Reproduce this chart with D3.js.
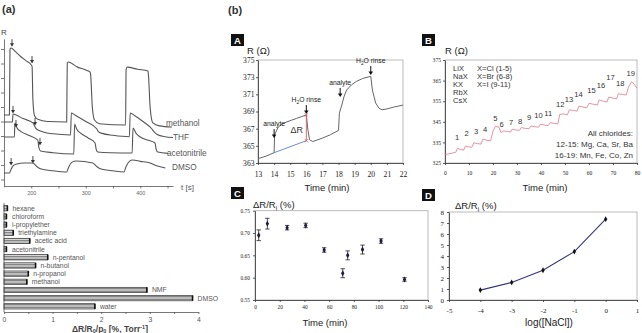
<!DOCTYPE html>
<html>
<head>
<meta charset="utf-8">
<script src="https://cdn.jsdelivr.net/npm/d3@7"></script>
<style>
body { margin: 0; background: #fff; }
svg { display: block; font-family: "Liberation Sans", Arial, sans-serif; }
</style>
</head>
<body>
<svg id="fig" width="642" height="333"></svg>
<script>
// ---------- data ----------
// (a) top: response traces, [t (s), R (arb. units)]
const methanol = [[150,5.45],[160,5.45],[161,10.0],[163,10.07],[170,9.85],[180,9.5],[190,9.2],[200,8.9],[201.5,8.8],[203,6.5],[206,5.4],[212,5.15],[230,5.0],[265,4.97],[266,9.0],[268,9.1],[285,8.75],[300,8.55],[308,8.4],[309,8.2],[312,6.0],[316,5.1],[325,4.85],[373,4.76],[374,8.6],[376,8.75],[395,8.6],[414,8.48],[415,8.2],[418,6.0],[423,4.9],[435,4.7],[458,4.62]];
const thf = [[150,4.97],[165.5,4.97],[166.5,5.52],[172,5.45],[185,5.2],[203,4.9],[206,4.7],[209,4.5],[222,4.28],[240,4.15],[272,4.07],[273.5,5.59],[280,5.45],[300,5.0],[320,4.5],[323,4.3],[330,4.18],[350,4.05],[380,3.95],[381.5,5.59],[390,5.4],[405,5.0],[421,4.5],[425,4.3],[431,4.1],[445,3.95],[460,3.9]];
const acetonitrile = [[150,3.93],[169,3.93],[170,4.9],[174,4.55],[180,4.34],[195,4.05],[212,3.72],[214,3.2],[217,2.97],[240,2.85],[278,2.76],[279.5,4.83],[283,4.5],[290,4.21],[305,3.85],[317,3.52],[319,3.1],[322,2.9],[345,2.85],[385,2.83],[386.7,4.55],[392,4.2],[400,3.93],[415,3.7],[427,3.52],[429,3.1],[432,2.9],[451,2.8]];
const dmso = [[150,1.45],[160,1.45],[163,1.7],[167,1.95],[172,2.05],[188,2.14],[203,2.14],[210,1.9],[218,1.72],[240,1.6],[265,1.52],[268,1.8],[275,2.2],[282,2.28],[313,2.14],[320,1.9],[328,1.72],[350,1.6],[370,1.52],[374,1.9],[380,2.25],[386,2.34],[400,2.25],[418,2.14],[430,1.95],[446,1.79]];
const traceNames = ["methanol", "THF", "acetonitrile", "DMSO"];
const arrowT = [164.7, 201.4, 166.5, 207, 172, 216, 163, 203];
const arrowR = [10.4, 9.24, 5.8, 4.97, 4.83, 3.59, 2.2, 2.34];
const timeTicks = [200, 250, 300, 350, 400, 450];

// (a) bottom: sensitivity per solvent
const solvents = ["hexane","chloroform","i-propylether","triethylamine","acetic acid","acetonitrile","n-pentanol","n-butanol","n-propanol","methanol","NMF","DMSO","water"];
const sensitivity = [0.07, 0.05, 0.05, 0.19, 0.53, 0.05, 0.9, 0.65, 0.5, 0.47, 2.94, 3.88, 1.87];

// (b) A: single resistance trace, [time (min), R (ohm)]
const traceA = [[13,363.5],[13.5,363.8],[14,364.2],[14.03,366.3],[14.26,367.2],[14.5,367.55],[14.8,367.8],[15.1,368.0],[15.4,368.2],[15.7,368.4],[16,368.6],[16.1,366.8],[16.2,365.7],[16.4,365.5],[17,365.9],[17.5,366.3],[18,366.8],[18.05,368.8],[18.2,369.75],[18.35,370.8],[18.5,371.5],[18.8,372.1],[19.1,372.5],[19.5,372.85],[20,373.1],[20.1,371.5],[20.3,370.0],[20.5,369.4],[20.7,369.2],[21,369.3],[21.4,369.5],[22,369.75]];
const baselineA = [[14,364.2],[16,365.6]];
const deltaA = [[16,365.6],[16,368.6]];
const annoText = ["analyte", "H2O rinse", "analyte", "H2O rinse"];
const annoT = [14.0, 16.0, 18.1, 20.0];
const annoR = [365.9, 368.7, 370.7, 373.25];

// (b) B: salt series trace, [time (min), R (ohm)]
const traceB = [[0,329],[3,329.8],[4.5,330.2],[5.2,332.2],[6.5,331.5],[7.8,331.3],[8.5,333.2],[10,332.8],[11.2,332.6],[12,334.8],[13.5,334.4],[15,334.2],[15.8,336.6],[17.5,336.0],[19,335.8],[20,340.5],[21,342.8],[22.5,342.4],[23.3,339.8],[24.5,340.6],[26,340.3],[27.3,340.0],[28,341.4],[29.5,341.0],[31,340.8],[31.8,342.2],[33.5,341.8],[35,341.6],[35.8,343.0],[37.5,342.6],[39,342.4],[39.8,343.8],[41.5,343.4],[43,343.2],[43.8,344.6],[45.5,344.2],[47,344.0],[47.8,348.6],[49.5,348.8],[51,348.4],[51.8,350.8],[53.5,350.5],[55,350.2],[55.8,352.6],[57.5,352.2],[59,351.8],[60,354.0],[61.5,353.6],[63.5,353.2],[64.2,355.6],[66,355.0],[67.5,354.6],[68.2,357.0],[70,356.5],[71.5,356.2],[72.2,358.6],[74,358.3],[75.5,358.0],[76.5,362],[77.8,364.5],[79,363],[80,361.3]];
const stepLabels = ["1","2","3","4","5","6","7","8","9","10","11","12","13","14","15","16","17","18","19"];
const stepT = [5, 9, 13, 16.7, 21, 23.6, 27.5, 31.25, 35, 39, 43, 48, 51.7, 55.6, 61, 65, 69, 73, 77.4];
const stepR = [337.6, 339.6, 340.5, 341.3, 346.7, 343.9, 344.7, 345.5, 347.2, 348.3, 349.4, 353.6, 356.1, 358.4, 360.5, 362.9, 366.6, 364, 368.9];
const saltNames = ["LiX", "NaX", "KX", "RbX", "CsX"];
const halides = ["X=Cl (1-5)", "X=Br (6-8)", "X=I (9-11)"];
const chlorideNotes = ["All chlorides:", "12-15: Mg, Ca, Sr, Ba", "16-19: Mn, Fe, Co, Zn"];

// (b) C: response over time with error bars
const timeC = [3, 10, 26, 41, 56, 71, 75, 87, 102, 121];
const respC = [0.695, 0.721, 0.712, 0.717, 0.662, 0.610, 0.650, 0.663, 0.682, 0.596];
const errC = [0.012, 0.012, 0.005, 0.005, 0.005, 0.01, 0.01, 0.01, 0.005, 0.004];

// (b) D: response vs concentration
const logNaCl = [-4, -3, -2, -1, 0];
const respD = [0.9, 1.6, 2.7, 4.4, 7.35];

// ---------- drawing ----------
const svg = d3.select("#fig");
const serif = '"Liberation Serif", "Times New Roman", serif';

function styleAxis(g, size, fam, col) {
  g.selectAll("path, line").attr("stroke", col || "#333").attr("stroke-width", 0.8);
  g.selectAll("text").attr("font-size", size).attr("font-family", fam).attr("fill", "#222");
}

// ---- (a) top ----
svg.append("text").attr("x", 2).attr("y", 13).attr("font-size", 11).attr("font-weight", "bold").attr("fill", "#333").text("(a)");
svg.append("text").attr("x", 1).attr("y", 35).attr("font-size", 8).attr("fill", "#444").text("R");

let xA = d3.scaleLinear().domain([150, 460]).range([4, 173]);
let yA = d3.scaleLinear().domain([0.5, 10.7]).range([186.75, 38.85]);

let axA = svg.append("g").attr("transform", "translate(0,186)")
  .call(d3.axisBottom(xA).tickValues(timeTicks).tickFormat(d => d % 100 === 0 ? d : "").tickSize(2.5).tickSizeOuter(0).tickPadding(3));
styleAxis(axA, 5.5, "Liberation Sans", "#555");
axA.selectAll("text").attr("fill", "#666");
let ayA = svg.append("g").attr("transform", "translate(4,0)")
  .call(d3.axisLeft(yA).tickValues(d3.range(1, 11)).tickFormat("").tickSize(3).tickSizeOuter(0));
styleAxis(ayA, 5, "Liberation Sans", "#555");
svg.append("text").attr("x", 181).attr("y", 190).attr("font-size", 8).attr("fill", "#555").text("t [s]");

let lineA = d3.line().x(d => xA(d[0])).y(d => yA(d[1])).curve(d3.curveMonotoneX);
let tracesA = [methanol, thf, acetonitrile, dmso];
tracesA.forEach(tr => {
  svg.append("path").attr("d", lineA(tr)).attr("fill", "none").attr("stroke", "#555").attr("stroke-width", 1.1);
});
let labelPos = [[166, 126], [173, 140], [167, 156], [172, 170]];
traceNames.forEach((n, i) => {
  svg.append("text").attr("x", labelPos[i][0]).attr("y", labelPos[i][1]).attr("font-size", 8.2).attr("fill", "#555").text(n);
});
// small injection arrows
arrowT.forEach((t, i) => {
  let x = xA(t), y = yA(arrowR[i]);
  svg.append("line").attr("x1", x).attr("x2", x).attr("y1", y - 4).attr("y2", y + 1).attr("stroke", "#333").attr("stroke-width", 0.9);
  svg.append("path").attr("d", `M${x - 2},${y} L${x + 2},${y} L${x},${y + 3.5} Z`).attr("fill", "#333");
});

// ---- (a) bottom bars ----
let xBar = d3.scaleLinear().domain([0, 4]).range([4, 198.4]);
let yBar = d3.scaleBand().domain(solvents).range([204.2, 310.4]).paddingInner(0.35).paddingOuter(0.175);

let defs = svg.append("defs");
let pat = defs.append("pattern").attr("id", "hatch").attr("patternUnits", "userSpaceOnUse").attr("width", 4).attr("height", 1.6);
pat.append("rect").attr("width", 4).attr("height", 1.6).attr("fill", "#e4e4e4");
pat.append("rect").attr("width", 4).attr("height", 0.7).attr("fill", "#6a6a6a");

svg.append("g").selectAll("rect").data(solvents).join("rect")
  .attr("x", xBar(0)).attr("y", d => yBar(d))
  .attr("width", (d, i) => xBar(sensitivity[i]) - xBar(0))
  .attr("height", yBar.bandwidth())
  .attr("fill", "url(#hatch)").attr("stroke", "#333").attr("stroke-width", 0.7);
svg.append("g").selectAll("line").data(solvents).join("line")
  .attr("x1", (d, i) => xBar(sensitivity[i])).attr("x2", (d, i) => xBar(sensitivity[i]))
  .attr("y1", d => yBar(d)).attr("y2", d => yBar(d) + yBar.bandwidth())
  .attr("stroke", "#111").attr("stroke-width", 1.6);
svg.append("g").selectAll("text").data(solvents).join("text")
  .attr("x", (d, i) => Math.max(xBar(sensitivity[i]) + 5, 12))
  .attr("y", d => yBar(d) + yBar.bandwidth() / 2 + 2.5)
  .attr("font-size", 6.8).attr("fill", "#555").text(d => d);

let axBar = svg.append("g").attr("transform", "translate(0,312)")
  .call(d3.axisBottom(xBar).tickValues(d3.range(0, 4.01, 0.5)).tickFormat(d => Number.isInteger(d) ? d : "").tickSize(2).tickSizeOuter(0).tickPadding(3));
styleAxis(axBar, 6.8, "Liberation Sans", "#555");
axBar.selectAll("text").attr("fill", "#555");
svg.append("line").attr("x1", 4).attr("x2", 4).attr("y1", 203).attr("y2", 312).attr("stroke", "#555").attr("stroke-width", 0.8);
let tBar = svg.append("text").attr("x", 110).attr("y", 331.5).attr("text-anchor", "middle").attr("font-size", 8.5).attr("font-weight", "bold").attr("fill", "#444");
tBar.append("tspan").text("ΔR/R");
tBar.append("tspan").attr("font-size", 5.5).attr("dy", 1.5).text("0");
tBar.append("tspan").attr("dy", -1.5).text("/p");
tBar.append("tspan").attr("font-size", 5.5).attr("dy", 1.5).text("0");
tBar.append("tspan").attr("dy", -1.5).text(" [%, Torr");
tBar.append("tspan").attr("font-size", 5.5).attr("dy", -3).text("-1");
tBar.append("tspan").attr("dy", 3).text("]");

// ---- (b) ----
svg.append("text").attr("x", 228).attr("y", 14).attr("font-size", 11).attr("font-weight", "bold").attr("fill", "#333").text("(b)");

function panelBox(x, y, letter) {
  svg.append("rect").attr("x", x).attr("y", y).attr("width", 13).attr("height", 12).attr("fill", "#111");
  svg.append("text").attr("x", x + 6.5).attr("y", y + 9.5).attr("text-anchor", "middle").attr("font-size", 9.5).attr("font-weight", "bold").attr("fill", "#fff").text(letter);
}
function frame(x0, x1, y0, y1) {
  svg.append("rect").attr("x", x0).attr("y", y0).attr("width", x1 - x0).attr("height", y1 - y0).attr("fill", "none").attr("stroke", "#aaa").attr("stroke-width", 0.8);
}
function yTitle(x, y, main, sub, rest) {
  let t = svg.append("text").attr("x", x).attr("y", y).attr("font-size", 9.5).attr("fill", "#222");
  t.append("tspan").text(main);
  if (sub) t.append("tspan").attr("font-size", 6.5).attr("dy", 2.5).text(sub);
  if (rest) t.append("tspan").attr("dy", sub ? -2.5 : 0).text(rest);
}

// panel A
panelBox(231, 34, "A");
yTitle(247, 54, "R (Ω)");
let xPA = d3.scaleLinear().domain([13, 22]).range([258, 403]);
let yPA = d3.scaleLinear().domain([363, 375]).range([163, 60]);
frame(258, 403, 60, 163);
let gA1 = svg.append("g").attr("transform", "translate(258,0)").call(d3.axisLeft(yPA).tickValues(d3.range(363, 376, 2)).tickSize(2).tickSizeOuter(0).tickPadding(1.5));
styleAxis(gA1, 7.6, serif);
let gA2 = svg.append("g").attr("transform", "translate(0,163)").call(d3.axisBottom(xPA).ticks(9).tickSize(2).tickSizeOuter(0).tickPadding(7));
styleAxis(gA2, 7.6, serif);
svg.append("text").attr("x", 327).attr("y", 191).attr("text-anchor", "middle").attr("font-size", 9.5).attr("fill", "#222").text("Time (min)");

let linePA = d3.line().x(d => xPA(d[0])).y(d => yPA(d[1]));
svg.append("path").attr("d", linePA(traceA)).attr("fill", "none").attr("stroke", "#666").attr("stroke-width", 1);
svg.append("path").attr("d", linePA(baselineA)).attr("fill", "none").attr("stroke", "#5a7fd6").attr("stroke-width", 0.9);
svg.append("path").attr("d", linePA(deltaA)).attr("fill", "none").attr("stroke", "#e05a5a").attr("stroke-width", 0.9);
deltaA.forEach(p => {
  svg.append("path").attr("transform", `translate(${xPA(p[0])},${yPA(p[1])})`)
    .attr("d", d3.symbol(d3.symbolX, 8)()).attr("stroke", "#e05a5a").attr("stroke-width", 0.8).attr("fill", "none");
});
svg.append("text").attr("x", 303).attr("y", 133).attr("text-anchor", "end").attr("font-size", 9).attr("fill", "#333").text("ΔR");
annoText.forEach((s, i) => {
  let x = xPA(annoT[i]), y = yPA(annoR[i]);
  svg.append("line").attr("x1", x).attr("x2", x).attr("y1", y - 9).attr("y2", y - 2).attr("stroke", "#111").attr("stroke-width", 1);
  svg.append("path").attr("d", `M${x - 2.3},${y - 3.5} L${x + 2.3},${y - 3.5} L${x},${y} Z`).attr("fill", "#111");
  let t = svg.append("text").attr("x", x).attr("y", y - 12).attr("text-anchor", "middle").attr("font-size", 6.8).attr("fill", "#222");
  if (s.startsWith("H2O")) {
    t.append("tspan").text("H");
    t.append("tspan").attr("font-size", 4.8).attr("dy", 1.5).text("2");
    t.append("tspan").attr("dy", -1.5).text("O rinse");
  } else t.text(s);
});

// panel B
panelBox(422, 34, "B");
yTitle(445, 54, "R (Ω)");
let xPB = d3.scaleLinear().domain([0, 80]).range([445, 637]);
let yPB = d3.scaleLinear().domain([325, 375]).range([163, 60]);
frame(445, 637, 60, 163);
let gB1 = svg.append("g").attr("transform", "translate(445,0)").call(d3.axisLeft(yPB).tickValues(d3.range(325, 376, 10)).tickSize(2).tickSizeOuter(0).tickPadding(2));
styleAxis(gB1, 5.6, serif);
let gB2 = svg.append("g").attr("transform", "translate(0,163)").call(d3.axisBottom(xPB).tickValues(d3.range(0, 81, 10)).tickSize(2).tickSizeOuter(0).tickPadding(6));
styleAxis(gB2, 5.6, serif);
svg.append("text").attr("x", 545).attr("y", 191).attr("text-anchor", "middle").attr("font-size", 9.5).attr("fill", "#222").text("Time (min)");

svg.append("path").attr("d", d3.line().x(d => xPB(d[0])).y(d => yPB(d[1]))(traceB))
  .attr("fill", "none").attr("stroke", "#e0788a").attr("stroke-width", 0.8);
svg.append("g").selectAll("text").data(stepLabels).join("text")
  .attr("x", (d, i) => xPB(stepT[i])).attr("y", (d, i) => yPB(stepR[i]) + 3)
  .attr("text-anchor", "middle").attr("font-size", 7.6).attr("fill", "#333").text(d => d);
saltNames.forEach((s, i) => {
  svg.append("text").attr("x", 453).attr("y", 71 + i * 8).attr("font-size", 7.6).attr("fill", "#333").text(s);
});
halides.forEach((s, i) => {
  svg.append("text").attr("x", 477).attr("y", 71 + i * 8).attr("font-size", 7.6).attr("fill", "#333").text(s);
});
chlorideNotes.forEach((s, i) => {
  svg.append("text").attr("x", 633).attr("y", 135.5 + i * 11).attr("text-anchor", "end").attr("font-size", 8).attr("fill", "#333").text(s);
});

// panel C
panelBox(231, 187, "C");
yTitle(253, 208, "ΔR/R", "i", " (%)");
let xPC = d3.scaleLinear().domain([0, 140]).range([255, 428]);
let yPC = d3.scaleLinear().domain([0.55, 0.75]).range([300, 210.7]);
frame(255, 428, 210.7, 300);
let gC1 = svg.append("g").attr("transform", "translate(255,0)").call(d3.axisLeft(yPC).tickValues([0.55, 0.6, 0.65, 0.7, 0.75]).tickFormat(d3.format(".2f")).tickSize(2).tickSizeOuter(0).tickPadding(3));
styleAxis(gC1, 5.4, serif);
let gC2 = svg.append("g").attr("transform", "translate(0,300)").call(d3.axisBottom(xPC).tickValues(d3.range(0, 141, 20)).tickSize(2).tickSizeOuter(0).tickPadding(3));
styleAxis(gC2, 5.4, serif);
svg.append("text").attr("x", 325).attr("y", 326).attr("text-anchor", "middle").attr("font-size", 9.5).attr("fill", "#222").text("Time (min)");

timeC.forEach((t, i) => {
  let x = xPC(t), y0 = yPC(respC[i] - errC[i]), y1 = yPC(respC[i] + errC[i]);
  let g = svg.append("g").attr("stroke", "#222").attr("stroke-width", 0.8);
  g.append("line").attr("x1", x).attr("x2", x).attr("y1", y0).attr("y2", y1);
  g.append("line").attr("x1", x - 2.2).attr("x2", x + 2.2).attr("y1", y0).attr("y2", y0);
  g.append("line").attr("x1", x - 2.2).attr("x2", x + 2.2).attr("y1", y1).attr("y2", y1);
  svg.append("path").attr("transform", `translate(${x},${yPC(respC[i])})`).attr("d", d3.symbol(d3.symbolDiamond, 10)()).attr("fill", "#1c1c40");
});

// panel D
panelBox(422, 189, "D");
yTitle(455, 209, "ΔR/R", "i", " (%)");
let xPD = d3.scaleLinear().domain([-5, 1]).range([449, 637]);
let yPD = d3.scaleLinear().domain([0, 8]).range([300, 212]);
frame(449, 637, 212, 300);
let gD1 = svg.append("g").attr("transform", "translate(449,0)").call(d3.axisLeft(yPD).ticks(8).tickSize(2).tickSizeOuter(0).tickPadding(3));
styleAxis(gD1, 7, serif);
let gD2 = svg.append("g").attr("transform", "translate(0,300)").call(d3.axisBottom(xPD).ticks(6).tickFormat(d => String(d)).tickSize(2).tickSizeOuter(0).tickPadding(6));
styleAxis(gD2, 7, serif);
svg.append("text").attr("x", 549).attr("y", 326).attr("text-anchor", "middle").attr("font-size", 10).attr("fill", "#222").text("log([NaCl])");

let ptsD = logNaCl.map((v, i) => [v, respD[i]]);
svg.append("path").attr("d", d3.line().x(d => xPD(d[0])).y(d => yPD(d[1]))(ptsD))
  .attr("fill", "none").attr("stroke", "#34367e").attr("stroke-width", 1.1);
svg.append("g").selectAll("path").data(ptsD).join("path")
  .attr("transform", d => `translate(${xPD(d[0])},${yPD(d[1])})`)
  .attr("d", d3.symbol(d3.symbolDiamond, 10)()).attr("fill", "#111");
</script>
</body>
</html>
